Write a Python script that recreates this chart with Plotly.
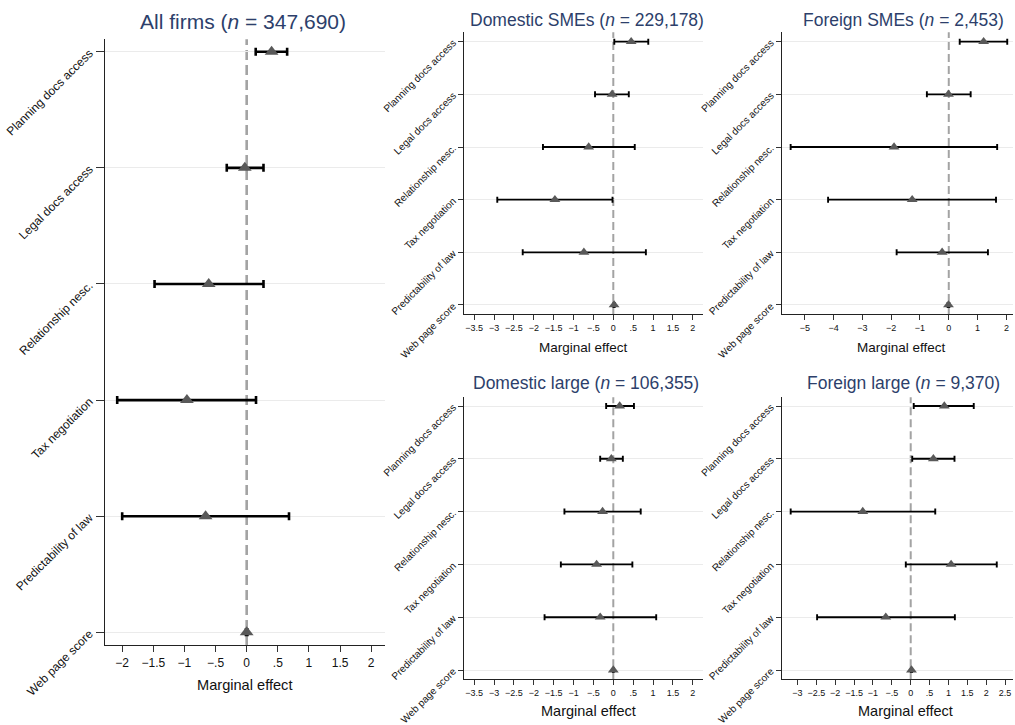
import plotly.graph_objects as go

categories = ["Planning docs access", "Legal docs access", "Relationship nesc.",
              "Tax negotiation", "Predictability of law", "Web page score"]

titles = ["All firms", "Domestic SMEs", "Foreign SMEs", "Domestic large", "Foreign large"]
sample_sizes = ["347,690", "229,178", "2,453", "106,355", "9,370"]

# point estimates, lower and upper CI bounds
all_pt = [0.40, -0.03, -0.61, -0.96, -0.66, 0.00]
all_lo = [0.145, -0.32, -1.48, -2.08, -2.00, -0.012]
all_hi = [0.65, 0.27, 0.27, 0.15, 0.68, 0.012]

dsme_pt = [0.45, -0.03, -0.62, -1.47, -0.74, 0.02]
dsme_lo = [0.025, -0.46, -1.77, -2.92, -2.28, 0.005]
dsme_hi = [0.88, 0.39, 0.54, -0.02, 0.82, 0.035]

fsme_pt = [1.21, -0.01, -1.90, -1.27, -0.23, -0.01]
fsme_lo = [0.38, -0.76, -5.49, -4.19, -1.81, -0.04]
fsme_hi = [2.03, 0.76, 1.68, 1.64, 1.36, 0.02]

dlarge_pt = [0.16, -0.05, -0.27, -0.42, -0.33, 0.00]
dlarge_lo = [-0.18, -0.33, -1.23, -1.32, -1.73, -0.01]
dlarge_hi = [0.52, 0.24, 0.69, 0.48, 1.08, 0.01]

flarge_pt = [0.89, 0.60, -1.27, 1.07, -0.66, 0.02]
flarge_lo = [0.08, 0.04, -3.18, -0.13, -2.48, 0.005]
flarge_hi = [1.67, 1.16, 0.65, 2.28, 1.17, 0.035]

ticks_all = [-2, -1.5, -1, -0.5, 0, 0.5, 1, 1.5, 2]
ticks_dom = [-3.5, -3, -2.5, -2, -1.5, -1, -0.5, 0, 0.5, 1, 1.5, 2]
ticks_fsme = [-5, -4, -3, -2, -1, 0, 1, 2]
ticks_flarge = [-3, -2.5, -2, -1.5, -1, -0.5, 0, 0.5, 1, 1.5, 2, 2.5]

ref_value = 0


def fmt(v):
    if v == 0:
        return "0"
    s = ("%g" % abs(v))
    if s.startswith("0."):
        s = s[1:]
    return ("\u2212" if v < 0 else "") + s


panels = [
    dict(pt=all_pt, lo=all_lo, hi=all_hi, ticks=ticks_all,
         xdom=[105/1015, 385/1015], ydom=[1-645/725, 1-39.3/725],
         xr=[-2.276, 2.222], pad=(0.107, 0.109),
         big=True, tcen=(0.239, 0.971), acen=(0.241, 0.0552)),
    dict(pt=dsme_pt, lo=dsme_lo, hi=dsme_hi, ticks=ticks_dom,
         xdom=[464.3/1015, 702.7/1015], ydom=[1-314/725, 1-32.3/725],
         xr=[-3.75, 2.25], pad=(0.178, 0.171),
         big=False, tcen=(0.578, 0.973), acen=(0.5747, 0.5204), afs=13.5),
    dict(pt=fsme_pt, lo=fsme_lo, hi=fsme_hi, ticks=ticks_fsme,
         xdom=[782/1015, 1013/1015], ydom=[1-314/725, 1-32.3/725],
         xr=[-5.79, 2.23], pad=(0.178, 0.171),
         big=False, tcen=(0.8906, 0.973), acen=(0.888, 0.5204), afs=13.5),
    dict(pt=dlarge_pt, lo=dlarge_lo, hi=dlarge_hi, ticks=ticks_dom,
         xdom=[464.3/1015, 702.7/1015], ydom=[1-679.3/725, 1-397.3/725],
         xr=[-3.75, 2.25], pad=(0.165, 0.176),
         big=False, tcen=(0.577, 0.4713), acen=(0.580, 0.0193), afs=14.5),
    dict(pt=flarge_pt, lo=flarge_lo, hi=flarge_hi, ticks=ticks_flarge,
         xdom=[782/1015, 1013/1015], ydom=[1-679.3/725, 1-397.3/725],
         xr=[-3.41, 2.71], pad=(0.165, 0.176),
         big=False, tcen=(0.8906, 0.4713), acen=(0.892, 0.0193), afs=14.5),
]

FONT = "Liberation Sans, Arial, Helvetica, sans-serif"
TITLE_COLOR = "#2d3f6b"

fig = go.Figure()
layout = dict(width=1015, height=725, margin=dict(l=0, r=0, t=0, b=0, pad=0),
              autosize=False, template="none",
              paper_bgcolor="white", plot_bgcolor="white", showlegend=False,
              font=dict(family=FONT, color="#111"), annotations=[], shapes=[])

for i, p in enumerate(panels):
    n = i + 1
    xs = "x" if n == 1 else "x%d" % n
    ys = "y" if n == 1 else "y%d" % n
    big = p["big"]
    plus = [h - v for h, v in zip(p["hi"], p["pt"])]
    minus = [v - l for v, l in zip(p["pt"], p["lo"])]
    fig.add_trace(go.Scatter(
        x=p["pt"], y=list(range(len(categories))), xaxis=xs, yaxis=ys,
        mode="markers",
        marker=dict(symbol="triangle-up", size=12 if big else 9.5, color="#595959",
                    line=dict(width=0)),
        error_x=dict(type="data", symmetric=False, array=plus, arrayminus=minus,
                     color="black", thickness=2.6 if big else 1.9,
                     width=4 if big else 3),
        hoverinfo="skip"))
    xkey = "xaxis" if n == 1 else "xaxis%d" % n
    ykey = "yaxis" if n == 1 else "yaxis%d" % n
    layout[xkey] = dict(
        domain=p["xdom"], range=p["xr"], anchor=ys, automargin=False,
        tickvals=p["ticks"], ticktext=[fmt(t) for t in p["ticks"]],
        ticks="outside", ticklen=6 if big else 5, tickcolor="#333",
        tickwidth=1.2, showline=True, linecolor="#222", linewidth=1.4 if big else 1.2,
        showgrid=False, zeroline=False, ticklabeloverflow="allow",
        tickfont=dict(size=12 if big else 9, color="#111", family=FONT))
    layout[ykey] = dict(
        domain=p["ydom"], anchor=xs, automargin=False,
        range=[len(categories) - 1 + p["pad"][1], -p["pad"][0]],
        tickvals=list(range(len(categories))), ticktext=categories,
        tickangle=-45, ticks="outside", ticklen=8 if big else 5, tickcolor="#333",
        tickwidth=1.2, showline=True, linecolor="#222", linewidth=1.4 if big else 1.2,
        ticklabelstandoff=4 if big else 3, ticklabeloverflow="allow",
        showgrid=True, gridcolor="#ebebeb", gridwidth=1, zeroline=False,
        tickfont=dict(size=12 if big else 10.1, color="#111", family=FONT))
    layout["shapes"].append(dict(
        type="line", xref=xs, yref=ys + " domain", x0=ref_value, x1=ref_value,
        y0=0, y1=1, layer="below",
        line=dict(color="#a3a3a3", width=2.6 if big else 2,
                  dash="10px,5px" if big else "8px,4px")))
    layout["annotations"].append(dict(
        xref="paper", yref="paper", x=p["tcen"][0], y=p["tcen"][1],
        xanchor="center", yanchor="middle", showarrow=False,
        text="%s (<i>n</i> = %s)" % (titles[i], sample_sizes[i]),
        font=dict(size=21 if big else 17.5, color=TITLE_COLOR, family=FONT)))
    layout["annotations"].append(dict(
        xref="paper", yref="paper", x=p["acen"][0], y=p["acen"][1],
        xanchor="center", yanchor="middle", showarrow=False,
        text="Marginal effect",
        font=dict(size=14.6 if big else p["afs"], color="#111", family=FONT)))

fig.update_layout(**layout)
fig.write_html("out.html")
